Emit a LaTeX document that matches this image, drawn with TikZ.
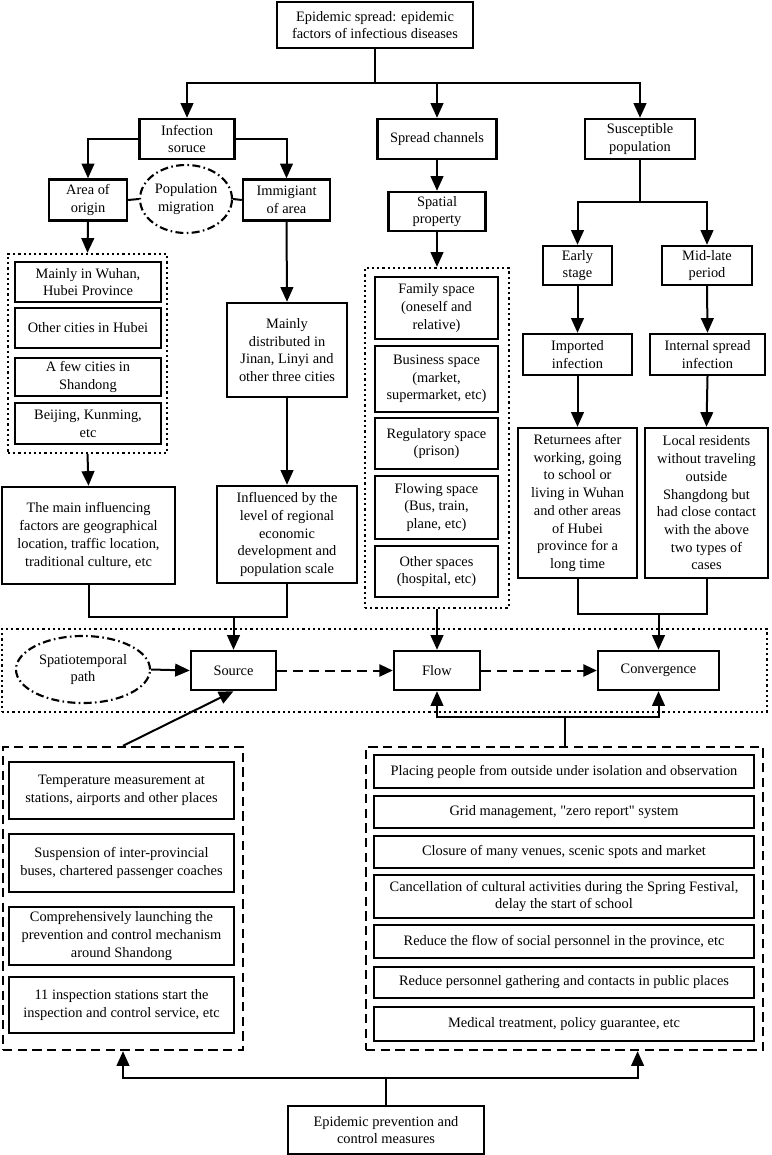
\documentclass[tikz,border=0pt]{standalone}
\usepackage{fontspec}
\setmainfont{Liberation Serif}
\newfontfamily\qfont{Liberation Serif}[Ligatures=TeXOff]
\usetikzlibrary{arrows.meta,shapes.geometric,calc}
\tikzset{
  every node/.style={font=\fontsize{10.8}{13.3}\selectfont},
  bx/.style 2 args={draw, line width=1.8pt, align=center, inner sep=1pt, minimum width=#1*0.75pt, minimum height=#2*0.75pt},
  ell/.style 2 args={draw, ellipse, line width=1.6pt, align=center, inner sep=0pt, minimum width=#1*0.75pt, minimum height=#2*0.75pt, dash pattern=on 6pt off 2.5pt on 1.2pt off 2.5pt},
  dotc/.style 2 args={draw, line width=1.8pt, dash pattern=on 1.7pt off 2.2pt, minimum width=#1*0.75pt, minimum height=#2*0.75pt, inner sep=0pt},
  dshc/.style 2 args={draw, line width=1.8pt, dash pattern=on 7pt off 4pt, minimum width=#1*0.75pt, minimum height=#2*0.75pt, inner sep=0pt},
  ln/.style={line width=1.5pt},
  arr/.style={line width=1.5pt, -{Triangle[width=9.5pt,length=11pt]}},
  darr/.style={line width=1.5pt, dash pattern=on 7pt off 5pt, -{Triangle[width=9pt,length=10pt]}},
}
\begin{document}
\begin{tikzpicture}[x=0.75pt,y=-0.75pt]
\useasboundingbox (0,0) rectangle (771,1155);
% containers
\node[dotc={159}{199}] (wcont) at (87.5,353.5) {};
\node[dotc={144}{340}] (scont) at (437,438) {};
\node[dotc={765}{83}] (path) at (384.5,670.5) {};
\node[dshc={240}{303}] (lcont) at (123,898.5) {};
\node[dshc={397}{303}] (rcont) at (564.5,898.5) {};
% top levels
\node[bx={196}{46}] (top) at (375,25) {Epidemic spread: epidemic\\factors of infectious diseases};
\node[bx={95}{40}] (inf) at (187,139) {Infection\\soruce};
\node[bx={119}{40}] (spr) at (437,139) {Spread channels};
\node[bx={110}{40}] (sus) at (640,139) {Susceptible\\population};
\node[bx={78}{41}] (aoo) at (88,200) {Area of\\origin};
\node[bx={87}{41}] (imm) at (286.5,200) {Immigiant\\of area};
\node[ell={92}{68}] (pm) at (186,199) {Population\\migration};
\node[bx={97}{39}] (sp) at (437,211.5) {Spatial\\property};
\node[bx={69}{39}] (early) at (577.5,265.5) {Early\\stage};
\node[bx={90}{39}] (mid) at (707,265.5) {Mid-late\\period};
\node[bx={109}{41}] (imp) at (577.5,354.5) {Imported\\infection};
\node[bx={115}{41}] (int) at (707.5,354.5) {Internal spread\\infection};
\node[bx={119}{150}] (ret) at (577.5,503) {Returnees after\\working, going\\to school or\\living in Wuhan\\and other areas\\of Hubei\\province for a\\long time};
\node[bx={123}{150}] (loc) at (706.5,503) {Local residents\\without traveling\\outside\\Shangdong but\\had close contact\\with the above\\two types of\\cases};
% left column
\node[bx={146}{40}] (w1) at (88,282) {Mainly in Wuhan,\\Hubei Province};
\node[bx={146}{40}] (w2) at (88,328) {Other cities in Hubei};
\node[bx={146}{38}] (w3) at (88,377) {A few cities in\\Shandong};
\node[bx={146}{41}] (w4) at (88,423.5) {Beijing, Kunming,\\etc};
\node[bx={120}{94}] (md) at (287,350) {Mainly\\distributed in\\Jinan, Linyi and\\other three cities};
\node[bx={173}{97}] (main) at (88.5,535.5) {The main influencing\\factors are geographical\\location, traffic location,\\traditional culture, etc};
\node[bx={140}{97}] (infl) at (287,534.5) {Influenced by the\\level of regional\\economic\\development and\\population scale};
% spatial
\node[bx={123}{62}] (s1) at (436.5,308) {Family space\\(oneself and\\relative)};
\node[bx={123}{66}] (s2) at (436.5,379) {Business space\\(market,\\supermarket, etc)};
\node[bx={123}{51}] (s3) at (436.5,443.5) {Regulatory space\\(prison)};
\node[bx={123}{63}] (s4) at (436.5,507.5) {Flowing space\\(Bus, train,\\plane, etc)};
\node[bx={123}{51}] (s5) at (436.5,571.5) {Other spaces\\(hospital, etc)};
% path row
\node[ell={134}{67}] (st) at (83,669.5) {Spatiotemporal\\path};
\node[bx={85}{39}] (src) at (233.5,670.5) {Source};
\node[bx={86}{39}] (flow) at (437,670.5) {Flow};
\node[bx={121}{39}] (conv) at (658.5,670.5) {Convergence};
% lower left
\node[bx={225}{57}] (l1) at (121.5,790.5) {Temperature measurement at\\stations, airports and other places};
\node[bx={225}{58}] (l2) at (121.5,863) {Suspension of inter-provincial\\buses, chartered passenger coaches};
\node[bx={225}{58}] (l3) at (121.5,936) {Comprehensively launching the\\prevention and control mechanism\\around Shandong};
\node[bx={225}{56}] (l4) at (121.5,1005) {11 inspection stations start the\\inspection and control service, etc};
% lower right
\node[bx={380}{33}] (r1) at (564,771.5) {Placing people from outside under isolation and observation};
\node[bx={380}{32}] (r2) at (564,812) {Grid management, {\qfont"}zero report{\qfont"} system};
\node[bx={380}{32}] (r3) at (564,852) {Closure of many venues, scenic spots and market};
\node[bx={380}{43}] (r4) at (564,896.5) {Cancellation of cultural activities during the Spring Festival,\\delay the start of school};
\node[bx={380}{33}] (r5) at (564,941.5) {Reduce the flow of social personnel in the province, etc};
\node[bx={380}{31}] (r6) at (564,982.5) {Reduce personnel gathering and contacts in public places};
\node[bx={380}{34}] (r7) at (564,1024) {Medical treatment, policy guarantee, etc};
\node[bx={196}{48}] (bot) at (386,1130) {Epidemic prevention and\\control measures};
% junctions
\coordinate (j1) at (375,83);
\coordinate (j2) at (233.5,617);
\coordinate (j3) at (640,202);
\coordinate (j4) at (658.5,614);
\coordinate (j5) at (564.5,717);
\coordinate (j6) at (386,1078);
\coordinate (rin) at ($(rcont.south west)!0.683!(rcont.south east)$);
% connectors
\draw[ln] (top.south) -- (j1);
\draw[arr] (j1) -| (inf.north);
\draw[arr] (j1) -| (sus.north);
\draw[arr] (j1 -| spr.north) -- (spr.north);
\draw[arr] (inf.west) -| (aoo.north);
\draw[arr] (inf.east) -| (imm.north);
\draw[ln] (aoo.east) -- (pm.west);
\draw[ln] (pm.east) -- (imm.west);
\draw[arr] (aoo.south) -- (wcont.north);
\draw[arr] (wcont.south) -- (main.north);
\draw[arr] (imm.south) -- (md.north);
\draw[arr] (md.south) -- (infl.north);
\draw[ln] (main.south) |- (j2);
\draw[ln] (infl.south) |- (j2);
\draw[arr] (j2) -- (src.north);
\draw[arr] (spr.south) -- (sp.north);
\draw[arr] (sp.south) -- (scont.north);
\draw[arr] (scont.south) -- (flow.north);
\draw[ln] (sus.south) -- (j3);
\draw[arr] (j3) -| (early.north);
\draw[arr] (j3) -| (mid.north);
\draw[arr] (early.south) -- (imp.north);
\draw[arr] (mid.south) -- (int.north);
\draw[arr] (imp.south) -- (ret.north);
\draw[arr] (int.south) -- (loc.north);
\draw[ln] (ret.south) |- (j4);
\draw[ln] (loc.south) |- (j4);
\draw[arr] (j4) -- (conv.north);
\draw[arr] (st.east) -- (src.west);
\draw[darr] (src.east) -- (flow.west);
\draw[darr] (flow.east) -- (conv.west);
\draw[arr] (lcont.north) -- (src.south);
\draw[ln] (rcont.north) -- (j5);
\draw[arr] (j5) -| (flow.south);
\draw[arr] (j5) -| (conv.south);
\draw[ln] (bot.north) -- (j6);
\draw[arr] (j6) -| (lcont.south);
\draw[arr] (j6) -| (rin);
\end{tikzpicture}
\end{document}
